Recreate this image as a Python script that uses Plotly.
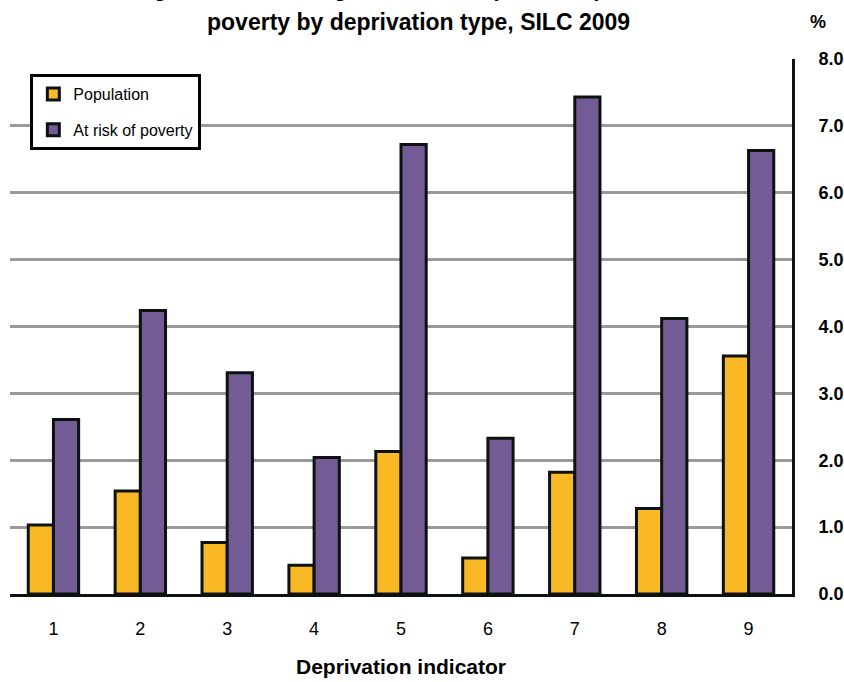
import plotly.graph_objects as go

# Deprivation indicators 1-9, percentage of children
indicators = ["1", "2", "3", "4", "5", "6", "7", "8", "9"]
population = [1.03, 1.54, 0.77, 0.43, 2.13, 0.54, 1.82, 1.28, 3.56]
at_risk = [2.61, 4.24, 3.31, 2.04, 6.72, 2.33, 7.43, 4.12, 6.63]

y_ticks = [0, 1, 2, 3, 4, 5, 6, 7, 8]
y_tick_text = ["0.0", "1.0", "2.0", "3.0", "4.0", "5.0", "6.0", "7.0", "8.0"]

title_line1 = "Figure 3: Percentage of children (under 18) at risk of"
title_line2 = "poverty by deprivation type, SILC 2009"

FONT = "Arial, Liberation Sans, sans-serif"
YELLOW = "#F8B924"
PURPLE = "#735C95"
OUTLINE = "#0D1210"

fig = go.Figure()
fig.add_trace(go.Bar(
    x=indicators, y=population, name="Population", legendgroup="a",
    marker=dict(color=YELLOW, line=dict(color=OUTLINE, width=3)),
))
fig.add_trace(go.Bar(
    x=indicators, y=at_risk, name="At risk of poverty", legendgroup="b",
    marker=dict(color=PURPLE, line=dict(color=OUTLINE, width=3)),
))

fig.update_layout(
    width=844, height=682,
    margin=dict(l=10, r=52, t=59, b=88),
    paper_bgcolor="white", plot_bgcolor="white",
    font=dict(family=FONT, color="black"),
    barmode="group", bargap=0.42, bargroupgap=0,
    showlegend=True,
    legend=dict(
        x=0.026, y=0.972, xanchor="left", yanchor="top",
        bgcolor="white", bordercolor="black", borderwidth=3,
        font=dict(size=16, family=FONT),
        traceorder="grouped", tracegroupgap=12,
        itemwidth=30,
    ),
    xaxis=dict(
        automargin=False,
        showgrid=False, showline=True, linecolor=OUTLINE, linewidth=3,
        ticks="", tickfont=dict(size=18, family=FONT),
        ticklabelstandoff=16,
        title=dict(text="Deprivation indicator", standoff=22,
                   font=dict(size=21, family=FONT, weight="bold")),
    ),
    yaxis=dict(
        automargin=False,
        side="right", range=[0, 8], tickvals=y_ticks, ticktext=y_tick_text,
        showgrid=True, gridcolor="#9A9A9A", gridwidth=3,
        zeroline=False,
        showline=True, linecolor=OUTLINE, linewidth=3,
        ticks="", ticklabelstandoff=20,
        tickfont=dict(size=18, family=FONT, weight="bold"),
    ),
    annotations=[
        dict(text=title_line1, xref="paper", yref="paper", x=0.523, y=1.132,
             xanchor="center", yanchor="middle", showarrow=False,
             font=dict(size=23, family=FONT, weight="bold")),
        dict(text=title_line2, xref="paper", yref="paper", x=0.523, y=1.069,
             xanchor="center", yanchor="middle", showarrow=False,
             font=dict(size=23, family=FONT, weight="bold")),
        dict(text="%", xref="paper", yref="paper", x=1.033, y=1.069,
             xanchor="center", yanchor="middle", showarrow=False,
             font=dict(size=18, family=FONT, weight="bold")),
    ],
)

fig.write_html("out.html")
